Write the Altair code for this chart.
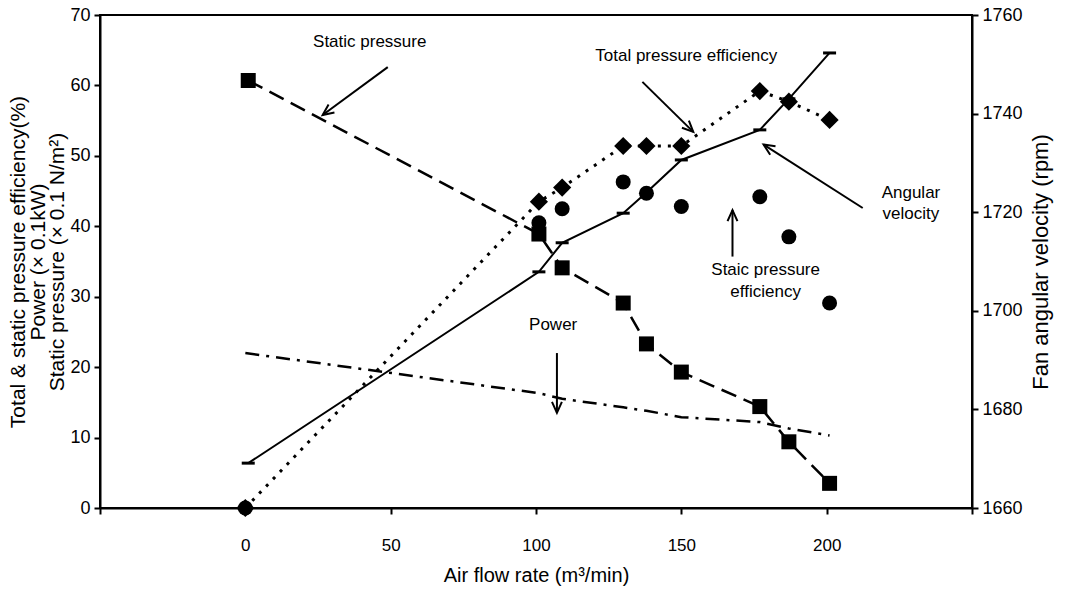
import math
import altair as alt
import pandas as pd

# ---- data ----
flow = [101, 109, 130, 138, 150, 177, 187, 201]

eff_flow = [0] + flow
total_eff = [0.0, 43.5, 45.5, 51.4, 51.4, 51.4, 59.2, 57.7, 55.1]
static_eff = [0.0, 40.5, 42.5, 46.3, 44.7, 42.8, 44.2, 38.5, 29.1]

sp_flow = [1] + flow
static_p = [60.7, 38.9, 34.1, 29.1, 23.3, 19.3, 14.4, 9.4, 3.5]

pw_flow = [0] + flow
power = [22.0, 16.3, 15.5, 14.3, 13.8, 12.9, 12.2, 11.3, 10.3]

av_flow = [1] + flow
ang_vel = [1669.1, 1707.9, 1713.8, 1719.8, 1724.0, 1730.6, 1736.7, 1743.0, 1752.3]

x_ticks = [-50, 0, 50, 100, 150, 200, 250]
y_ticks = [0, 10, 20, 30, 40, 50, 60, 70]
r_ticks = [1660, 1680, 1700, 1720, 1740, 1760]

ann_text = ["Static pressure", "Total pressure efficiency", "Angular", "velocity",
            "Staic pressure", "efficiency", "Power"]
ann_x = [42.8, 151.7, 229, 229, 179, 179, 105.9]
ann_y = [66.2, 64.2, 44.7, 41.8, 33.8, 30.7, 26.0]

arrow_x1 = [49.0, 136.6, 212.4, 167.6, 107.2]
arrow_y1 = [62.6, 60.5, 42.6, 35.7, 22.0]
arrow_x2 = [26.6, 154.1, 178.3, 167.6, 107.2]
arrow_y2 = [55.8, 53.4, 51.6, 42.3, 13.5]

# ---- layout ----
W, H = 872, 493
XDOM = [-50, 250]
YDOM = [0, 70]
RDOM = [1660, 1760]
FONT = "Liberation Sans"

sx = W / (XDOM[1] - XDOM[0])
sy = H / (YDOM[1] - YDOM[0])
angles = [math.degrees(math.atan2((x2 - x1) * sx, (y2 - y1) * sy)) % 360
          for x1, y1, x2, y2 in zip(arrow_x1, arrow_y1, arrow_x2, arrow_y2)]

eff_df = pd.DataFrame({"x": eff_flow, "tot": total_eff, "stat": static_eff})
sp_df = pd.DataFrame({"x": sp_flow, "y": static_p})
pw_df = pd.DataFrame({"x": pw_flow, "y": power})
av_df = pd.DataFrame({"x": av_flow, "y": ang_vel})
ann_df = pd.DataFrame({"x": ann_x, "y": ann_y, "t": ann_text})
arr_df = pd.DataFrame({"x": arrow_x1, "y": arrow_y1, "x2": arrow_x2, "y2": arrow_y2,
                       "ang": angles})

xscale = alt.Scale(domain=XDOM, nice=False, zero=False)
xaxis = alt.Axis(values=x_ticks, grid=False, tickSize=6, labelPadding=23,
                 labelExpr="datum.value < 0 || datum.value > 200 ? '' : datum.label",
                 title="Air flow rate (m³/min)", titlePadding=12,
                 labelFontSize=17, titleFontSize=20)
yscale = alt.Scale(domain=YDOM, nice=False, zero=False)
yaxis = alt.Axis(values=y_ticks, grid=False, tickSize=6, labelPadding=4,
                 orient="left",
                 title=["Total  &  static  pressure  efficiency(%)", "Power (× 0.1kW)",
                        "Static pressure (× 0.1 N/m²)"],
                 titleLineHeight=19.5, titlePadding=2,
                 labelFontSize=18, titleFontSize=21)
rscale = alt.Scale(domain=RDOM, nice=False, zero=False)
raxis = alt.Axis(values=r_ticks, grid=False, tickSize=6, labelPadding=4,
                 orient="right", title="Fan angular velocity (rpm)", format="d",
                 titleAngle=270, titlePadding=30,
                 labelFontSize=18, titleFontSize=22)


def X(field="x"):
    return alt.X(f"{field}:Q", scale=xscale, axis=xaxis)


def Y(field):
    return alt.Y(f"{field}:Q", scale=yscale, axis=yaxis)


tot_line = alt.Chart(eff_df).mark_line(color="black", strokeWidth=3,
                                       strokeDash=[3, 7]).encode(x=X(), y=Y("tot"))
tot_pts = alt.Chart(eff_df).mark_point(shape="diamond", filled=True, size=330,
                                       color="black", opacity=1).encode(x=X(), y=Y("tot"))
stat_pts = alt.Chart(eff_df).mark_point(shape="circle", filled=True, size=225,
                                        color="black", opacity=1).encode(x=X(), y=Y("stat"))
sp_line = alt.Chart(sp_df).mark_line(color="black", strokeWidth=2.5,
                                     strokeDash=[16, 8]).encode(x=X(), y=Y("y"))
sp_pts = alt.Chart(sp_df).mark_point(shape="square", filled=True, size=225,
                                     color="black", opacity=1).encode(x=X(), y=Y("y"))
pw_line = alt.Chart(pw_df).mark_line(color="black", strokeWidth=2.5,
                                     strokeDash=[14, 7, 3, 7]).encode(x=X(), y=Y("y"))

ann = alt.Chart(ann_df).mark_text(font=FONT, fontSize=17, color="black",
                                  align="center", baseline="middle").encode(
    x=X(), y=Y("y"), text="t:N")
shafts = alt.Chart(arr_df).mark_rule(color="black", strokeWidth=2).encode(
    x=X(), y=Y("y"), x2="x2:Q", y2="y2:Q")
heads = alt.Chart(arr_df).mark_point(shape="M-0.45,1L0,0L0.45,1", filled=False,
                                     size=484, color="black", strokeWidth=2,
                                     opacity=1).encode(
    x=alt.X("x2:Q", scale=xscale, axis=xaxis), y=alt.Y("y2:Q", scale=yscale, axis=yaxis),
    angle=alt.Angle("ang:Q", scale=None))

left = alt.layer(tot_line, sp_line, pw_line, shafts, heads, ann,
                 tot_pts, stat_pts, sp_pts)

av_line = alt.Chart(av_df).mark_line(color="black", strokeWidth=2).encode(
    x=X(), y=alt.Y("y:Q", scale=rscale, axis=raxis))
av_ticks = alt.Chart(av_df).mark_tick(color="black", orient="horizontal", size=13,
                                      thickness=3, opacity=1).encode(
    x=X(), y=alt.Y("y:Q", scale=rscale, axis=raxis))
right = alt.layer(av_line, av_ticks)

chart = alt.layer(left, right).resolve_scale(y="independent").properties(
    width=W, height=H,
    autosize=alt.AutoSizeParams(type="none"),
    padding={"left": 100, "top": 15, "right": 96, "bottom": 85},
    background="white",
).configure_view(stroke="black", strokeWidth=2).configure_axis(
    domainColor="black", domainWidth=2, tickColor="black", tickWidth=2,
    labelColor="black", titleColor="black", labelFont=FONT, titleFont=FONT,
    titleFontWeight="normal",
)

chart.save("out.html", embed_options={"renderer": "svg", "actions": False})
